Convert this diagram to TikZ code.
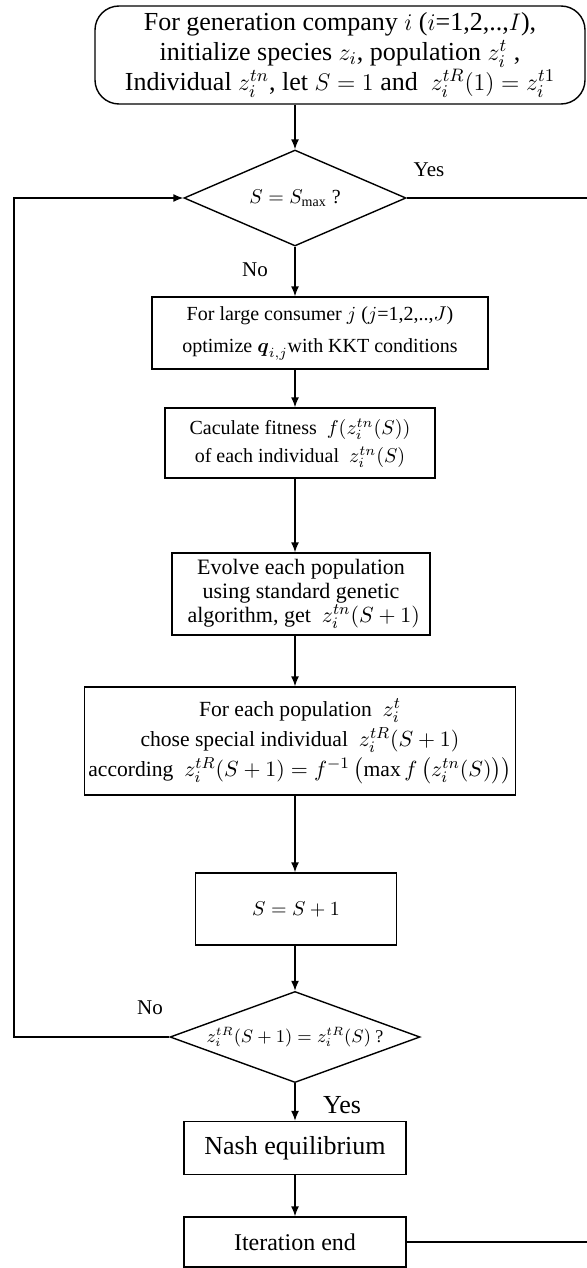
\documentclass[tikz,border=0pt]{standalone}
\usepackage{amsmath}
\usepackage{fontspec}
\setmainfont{Liberation Serif}
\usetikzlibrary{shapes.geometric,arrows.meta}
\newcommand{\fsz}[2]{\fontsize{#1}{#2}\selectfont}
\begin{document}
\begin{tikzpicture}[x=0.5pt,y=-0.5pt,line width=0.7pt,
  procbox/.style={draw,align=center,inner sep=2pt},
  decision/.style={draw,diamond,aspect=2.5,inner sep=0pt,font=\fsz{10}{12}},
  arr/.style={-{Latex[length=5pt,width=4pt]}},
  lbl/.style={font=\fsz{10.5}{12}}]
\useasboundingbox (0,0) rectangle (587,1268);
\coordinate (spine) at (295,0);
\coordinate (edge) at (587,0);
\coordinate (loopx) at (14,0);
% boxes
\node[procbox,rounded corners=12pt,minimum width=245pt,minimum height=49pt,font=\fsz{13}{15}] (init) at (340,55)
  {For generation company $i$ ($i$=1,2,..,$I$),\\ initialize species $z_i$, population $z_i^t$ ,\\ Individual $z_i^{tn}$, let $S=1$ and \ $z_i^{tR}(1)=z_i^{t1}$};
\node[decision,minimum width=111pt,minimum height=48pt] (d1) at (295,198) {$S=S_{\max}$ ?};
\node[procbox,minimum width=168pt,minimum height=36pt,font=\fsz{10}{16}] (box2) at (320,333)
  {For large consumer $j$ ($j$=1,2,..,$J$)\\ optimize $\boldsymbol{q}_{i,j}$with KKT conditions};
\node[procbox,minimum width=135pt,minimum height=35pt,font=\fsz{10}{14}] (box3) at (300,443)
  {Caculate fitness \ $f(z_i^{tn}(S))$\\ of each individual \ $z_i^{tn}(S)$};
\node[procbox,minimum width=129pt,minimum height=41pt,font=\fsz{11}{12}] (box4) at (301,594)
  {Evolve each population\\ using standard genetic\\ \ algorithm, get \ $z_i^{tn}(S+1)$};
\node[procbox,minimum width=185pt,minimum height=54pt,font=\fsz{10.8}{15}] (box5) at (300,741)
  {For each population \ $z_i^t$\\ chose special individual \ $z_i^{tR}(S+1)$\\
   according \ $z_i^{tR}(S+1)=f^{-1}\left(\max f\left(z_i^{tn}(S)\right)\right)$};
\node[procbox,minimum width=100.5pt,minimum height=36pt,font=\fsz{10}{12}] (box6) at (296,909) {$S=S+1$};
\node[decision,minimum width=125pt,minimum height=44pt,font=\fsz{9}{11}] (d2) at (295,1037) {$z_i^{tR}(S+1)=z_i^{tR}(S)$ ?};
\node[procbox,minimum width=111pt,minimum height=26.5pt,font=\fsz{13}{15}] (nash) at (295,1148) {Nash equilibrium};
\node[procbox,minimum width=111pt,minimum height=25pt,font=\fsz{12}{14}] (iter) at (295,1242) {Iteration end};
% labels
\node[lbl] (yes1) at (429,170) {Yes};
\node[lbl] (no1) at (255,270) {No};
\node[lbl] (no2) at (150,1008) {No};
\node[font=\fsz{13}{15}] (yes2) at (342,1105) {Yes};
% connectors
\draw[arr] (init.south -| spine) -- (d1.north);
\draw[arr] (d1.south) -- (box2.north -| spine);
\draw[arr] (box2.south -| spine) -- (box3.north -| spine);
\draw[arr] (box3.south -| spine) -- (box4.north -| spine);
\draw[arr] (box4.south -| spine) -- (box5.north -| spine);
\draw[arr] (box5.south -| spine) -- (box6.north -| spine);
\draw[arr] (box6.south -| spine) -- (d2.north);
\draw[arr] (d2.south) -- (nash.north);
\draw[arr] (nash.south) -- (iter.north);
\draw[arr] (d2.west) -- (d2.west -| loopx) |- (d1.west);
\draw (d1.east) -- (d1.east -| edge);
\draw (iter.east) -- (iter.east -| edge);
\end{tikzpicture}
\end{document}
